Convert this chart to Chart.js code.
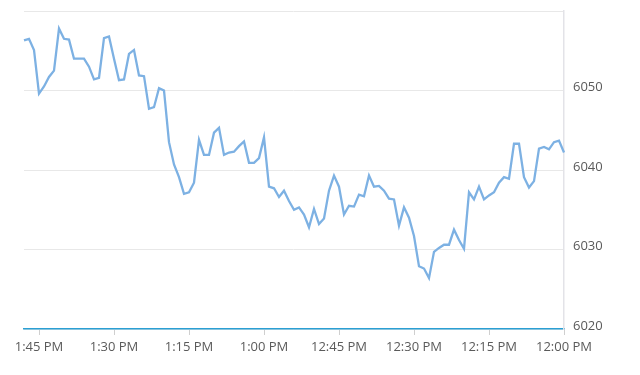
<!DOCTYPE html>
<html>
<head>
<meta charset="utf-8">
<script src="https://cdn.jsdelivr.net/npm/chart.js@4.4.1/dist/chart.umd.min.js"></script>
<style>
  html, body { margin: 0; padding: 0; background: #fff; }
  #wrap { width: 640px; height: 375px; }
</style>
</head>
<body>
<div id="wrap"><canvas id="priceChart"></canvas></div>
<script>
// one point per minute, from 1:48 PM (left) back to 12:00 PM (right)
const startMinute = 108;   // minutes after 12:00 for the first point
const prices = [
  6056.3, 6056.5, 6055.1, 6049.6, 6050.5, 6051.7, 6052.5, 6057.8, 6056.5, 6056.4,
  6054.0, 6054.0, 6054.0, 6053.0, 6051.4, 6051.6, 6056.6, 6056.8, 6054.0, 6051.3,
  6051.4, 6054.6, 6055.1, 6051.9, 6051.8, 6047.7, 6047.9, 6050.3, 6050.0, 6043.5,
  6040.7, 6039.1, 6037.0, 6037.2, 6038.4, 6043.8, 6041.9, 6041.9, 6044.7, 6045.3,
  6041.9, 6042.2, 6042.3, 6043.0, 6043.6, 6040.9, 6040.9, 6041.5, 6044.1, 6037.9,
  6037.7, 6036.6, 6037.4, 6036.1, 6035.0, 6035.3, 6034.4, 6032.8, 6035.1, 6033.2,
  6033.9, 6037.4, 6039.3, 6037.9, 6034.4, 6035.5, 6035.4, 6036.9, 6036.7, 6039.3,
  6037.9, 6038.0, 6037.4, 6036.4, 6036.3, 6033.0, 6035.3, 6034.0, 6031.7, 6027.9,
  6027.6, 6026.4, 6029.7, 6030.2, 6030.6, 6030.6, 6032.5, 6031.2, 6030.1, 6037.2,
  6036.3, 6037.9, 6036.3, 6036.8, 6037.2, 6038.4, 6039.1, 6038.9, 6043.3, 6043.3,
  6039.1, 6037.8, 6038.6, 6042.7, 6042.9, 6042.6, 6043.5, 6043.7, 6042.2
];
const tickLabels = ['1:45 PM', '1:30 PM', '1:15 PM', '1:00 PM', '12:45 PM', '12:30 PM', '12:15 PM', '12:00 PM'];
const yTicks = [6020, 6030, 6040, 6050, 6060];

function timeLabel(minsAfterNoon) {
    const h = Math.floor(minsAfterNoon / 60);
    const m = minsAfterNoon % 60;
    return (h === 0 ? 12 : h) + ':' + String(m).padStart(2, '0') + ' PM';
}

const labels = prices.map((p, i) => timeLabel(startMinute - i));

const ctx = document.getElementById('priceChart').getContext('2d');
new Chart(ctx, {
    type: 'line',
    data: {
        labels: labels,
        datasets: [{
            data: prices,
            borderColor: '#7db1e3',
            borderWidth: 2.3,
            pointRadius: 0,
            tension: 0,
            fill: false
        }]
    },
    options: {
        responsive: true,
        maintainAspectRatio: false,
        animation: false,
        layout: { padding: { left: 24, top: 11, right: 0, bottom: 0 } },
        plugins: {
            legend: { display: false },
            tooltip: { enabled: false }
        },
        scales: {
            x: {
                offset: false,
                border: { color: '#2b9fd3', width: 1.5 },
                grid: {
                    drawOnChartArea: false,
                    tickLength: 6,
                    color: '#cfcfcf'
                },
                ticks: {
                    autoSkip: false,
                    maxRotation: 0,
                    padding: 4,
                    color: '#5a5a5a',
                    font: { family: 'Open Sans', size: 13 },
                    callback: function(value) {
                        const lbl = this.getLabelForValue(value);
                        return tickLabels.includes(lbl) ? lbl : null;
                    }
                },
                afterFit: function(scale) { scale.height = 46; }
            },
            y: {
                position: 'right',
                min: 6020,
                max: 6060,
                border: { color: '#e3e3e8', width: 1.5 },
                grid: { color: '#e8e8e8', drawTicks: false },
                afterBuildTicks: function(scale) {
                    scale.ticks = yTicks.map(v => ({ value: v }));
                },
                ticks: {
                    padding: 9,
                    labelOffset: -3,
                    color: '#5a5a5a',
                    font: { family: 'Open Sans', size: 13 },
                    callback: function(value) { return value === 6060 ? '' : value; }
                },
                afterFit: function(scale) {
                    scale.width = 76;
                    scale.paddingTop = 0;
                    scale.paddingBottom = 0;
                }
            }
        }
    }
});
</script>
</body>
</html>
